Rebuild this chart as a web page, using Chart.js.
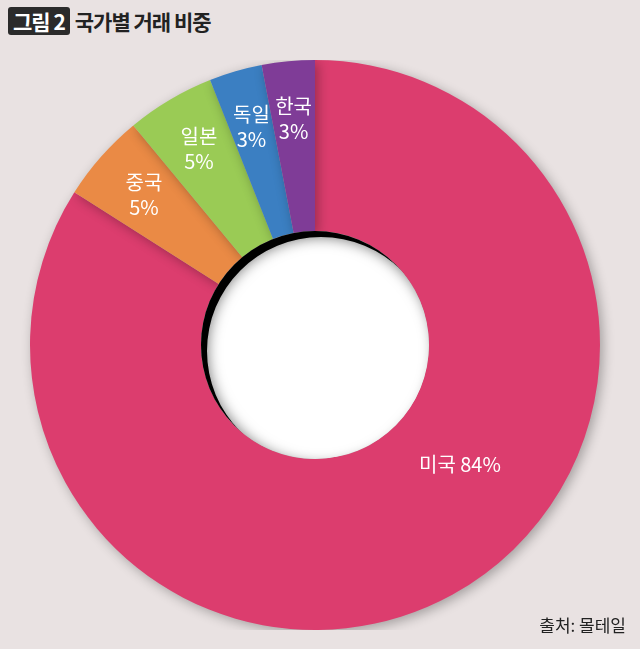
<!DOCTYPE html>
<html><head><meta charset="utf-8">
<script src="https://cdn.jsdelivr.net/npm/chart.js@4/dist/chart.umd.min.js"></script>
<style>
body{margin:0;background:#e9e2e2;width:640px;height:649px;overflow:hidden;font-family:"Noto Sans CJK KR",sans-serif;position:relative}
#t{position:absolute;left:8px;top:6px;font-size:21px;font-weight:bold;color:#222;display:flex;align-items:center;letter-spacing:-1px}
#t span{background:#2b2b2b;color:#fff;padding:0 5px;border-radius:3px;margin-right:5px;line-height:28px}
#s{position:absolute;right:14px;bottom:12px;font-size:17px;color:#222}
#w{position:absolute;left:0;top:60px;width:630px;height:570px}
</style></head><body>
<div id="t"><span>그림 2</span>국가별 거래 비중</div>
<div id="w"><canvas id="c"></canvas></div>
<div id="s">출처: 몰테일</div>
<script>
const categories=["미국","중국","일본","독일","한국"];
const values=[84,5,5,3,3];
const colors=["#dc3d6e","#ea8a45","#9acb55","#3b7fc2","#7f3c97"];
const labelPlugin={id:"lbl",
 beforeDatasetsDraw(ch){const x=ch.ctx;x.save();
  x.shadowColor="rgba(0,0,0,0.3)";x.shadowBlur=12;x.shadowOffsetX=3;x.shadowOffsetY=3;},
 afterDatasetsDraw(ch){const x=ch.ctx;x.restore();const m=ch.getDatasetMeta(0);
  const a0=m.data[0];
  x.save();x.beginPath();x.arc(a0.x,a0.y,a0.innerRadius,0,2*Math.PI);x.clip();
  x.fillStyle="#fff";x.fill();
  x.beginPath();x.arc(a0.x,a0.y,a0.innerRadius+20,0,2*Math.PI);x.arc(a0.x+6,a0.y+6,a0.innerRadius,0,2*Math.PI,true);
  x.shadowColor="rgba(0,0,0,0.55)";x.shadowBlur=14;x.fillStyle="#000";x.fill();
  x.restore();
  x.save();x.fillStyle="#fff";x.textAlign="center";x.textBaseline="middle";
  x.font='20px "Noto Sans CJK KR"';
  m.data.forEach((e,i)=>{let ang,r;
   if(i===0){ang=-Math.PI/2+129.6*Math.PI/180;r=e.outerRadius*0.66;
     x.fillText(categories[i]+" "+values[i]+"%",e.x+Math.cos(ang)*r,e.y+Math.sin(ang)*r);}
   else{ang=(e.startAngle+e.endAngle)/2;r=e.outerRadius*0.8;
     const px=e.x+Math.cos(ang)*r,py=e.y+Math.sin(ang)*r;
     x.fillText(categories[i],px,py-12);x.fillText(values[i]+"%",px,py+13);}
  });x.restore();}};
new Chart(document.getElementById("c"),{type:"doughnut",
 data:{labels:categories,datasets:[{data:values,backgroundColor:colors,borderWidth:0}]},
 options:{responsive:true,maintainAspectRatio:false,animation:false,cutout:"40%",
  layout:{padding:0},
  plugins:{legend:{display:false},tooltip:{enabled:false}}},
 plugins:[labelPlugin]});
</script></body></html>
